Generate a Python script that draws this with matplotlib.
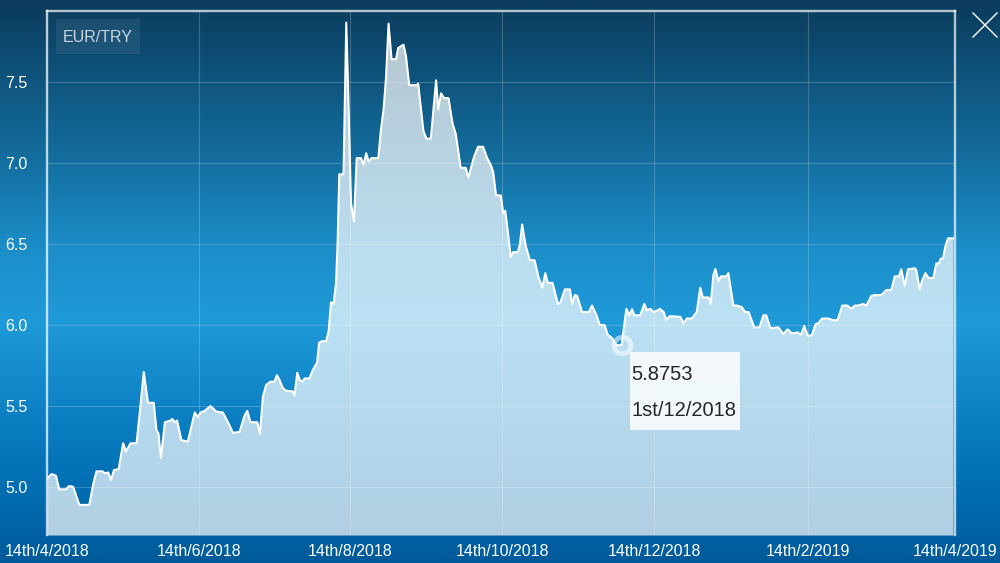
import numpy as np
import pandas as pd
import matplotlib
matplotlib.use("Agg")
import matplotlib.pyplot as plt
from matplotlib.colors import LinearSegmentedColormap
from matplotlib.patches import Rectangle
from matplotlib.transforms import IdentityTransform

plt.rcParams['font.family'] = ['Liberation Sans', 'DejaVu Sans']

start = pd.Timestamp("2018-04-14")
end = pd.Timestamp("2019-04-14")

# days after 14/4/2018
days = [0.1, 1.9, 3.6, 4.9, 7.6, 8.9, 10.5, 13.0, 17.0, 18.6, 19.9, 22.3, 23.3, 24.6,
        25.8, 26.9, 28.8, 30.6, 31.7, 33.6, 36.0, 37.3, 38.9, 40.6, 42.9, 44.0, 44.8,
        45.8, 47.4, 49.6, 50.4, 51.3, 52.3, 54.0, 56.6, 59.4, 60.7, 61.7, 63.4, 65.7,
        68.1, 70.7, 73.4, 74.7, 77.4, 79.4, 80.5, 81.8, 84.5, 85.6, 86.8, 88.1, 89.8,
        91.4, 92.4, 93.5, 94.8, 96.1, 98.8, 99.5, 100.6, 101.6, 102.7, 103.5, 105.5,
        106.8, 108.6, 109.4, 110.4, 112.2, 113.2, 114.2, 115.2, 116.2, 116.8, 117.5,
        119.2, 120.3, 121.1, 122.2, 123.4, 124.5, 126.2, 127.3, 128.3, 129.3, 130.5,
        133.2, 134.2, 135.3, 136.3, 137.3, 138.5, 140.3, 141.2, 143.3, 144.3, 145.6,
        148.7, 149.2, 151.3, 152.5, 154.3, 156.4, 157.3, 158.4, 159.6, 161.4, 163.0,
        164.3, 166.3, 168.3, 169.4, 171.7, 173.3, 175.3, 176.8, 178.6, 179.4, 180.5,
        182.4, 183.4, 184.2, 185.3, 186.4, 187.4, 189.3, 190.1, 191.0, 192.4, 194.1,
        196.0, 197.5, 199.1, 200.3, 201.3, 203.2, 205.4, 206.4, 208.2, 210.2, 211.1,
        212.2, 213.1, 215.1, 217.8, 219.1, 220.9, 222.2, 224.1, 225.4, 227.1, 228.9,
        231.0, 232.9, 234.0, 235.2, 236.1, 238.5, 240.1, 241.2, 242.5, 243.9, 245.5,
        246.3, 247.9, 249.0, 250.3, 254.6, 255.9, 257.2, 259.2, 261.2, 262.6, 263.6,
        265.9, 266.8, 267.9, 268.7, 269.9, 270.9, 273.0, 273.9, 275.9, 277.5, 279.3,
        280.6, 282.0, 284.3, 286.4, 288.0, 289.1, 290.8, 294.0, 296.0, 297.7, 299.3,
        300.7, 301.7, 303.1, 304.4, 305.8, 307.4, 309.0, 310.0, 311.6, 314.0, 316.0,
        317.8, 319.7, 321.8, 323.2, 324.8, 326.1, 328.1, 329.4, 331.4, 333.0, 335.4,
        337.4, 339.4, 340.8, 342.5, 343.4, 344.8, 346.1, 348.8, 349.4, 350.8, 351.7,
        353.1, 354.4, 356.3, 357.5, 358.5, 359.3, 360.2, 361.1, 362.2, 364.2]

rate = [5.054, 5.08, 5.07, 4.986, 4.986, 5.006, 5.002, 4.89, 4.89, 5.02, 5.097, 5.097, 5.085, 5.09,
        5.043, 5.105, 5.11, 5.27, 5.22, 5.27, 5.27, 5.46, 5.71, 5.52, 5.52, 5.35, 5.33,
        5.18, 5.40, 5.41, 5.42, 5.40, 5.41, 5.29, 5.28, 5.46, 5.43, 5.46, 5.47, 5.50,
        5.465, 5.46, 5.38, 5.335, 5.34, 5.44, 5.47, 5.40, 5.40, 5.33, 5.56, 5.63, 5.65,
        5.65, 5.69, 5.66, 5.61, 5.595, 5.59, 5.565, 5.705, 5.66, 5.65, 5.67, 5.67,
        5.72, 5.77, 5.89, 5.90, 5.90, 5.96, 6.14, 6.13, 6.26, 6.50, 6.93,
        6.93, 7.866, 7.43, 6.75, 6.64, 7.03, 7.03, 6.99, 7.06, 7.01, 7.03,
        7.03, 7.20, 7.33, 7.53, 7.86, 7.64, 7.64, 7.71, 7.73, 7.66, 7.48,
        7.48, 7.49, 7.20, 7.15, 7.15, 7.51, 7.33, 7.43, 7.40, 7.40, 7.245,
        7.18, 6.97, 6.97, 6.91, 7.04, 7.10, 7.10, 7.035, 6.98, 6.94, 6.80,
        6.80, 6.69, 6.705, 6.57, 6.42, 6.45, 6.45, 6.50, 6.62, 6.49, 6.40,
        6.40, 6.30, 6.23, 6.32, 6.26, 6.26, 6.13, 6.14, 6.22, 6.22, 6.13,
        6.185, 6.18, 6.08, 6.08, 6.12, 6.06, 6.00, 6.00, 5.94, 5.92, 5.8753,
        5.8753, 6.10, 6.06, 6.097, 6.06, 6.06, 6.13, 6.09, 6.10, 6.08, 6.09,
        6.10, 6.08, 6.03, 6.055, 6.05, 6.01, 6.04, 6.04, 6.08, 6.23, 6.17,
        6.17, 6.13, 6.31, 6.345, 6.27, 6.30, 6.30, 6.32, 6.12, 6.12, 6.11,
        6.08, 6.08, 5.985, 5.985, 6.06, 6.06, 5.98, 5.985, 5.944, 5.973, 5.95,
        5.95, 5.955, 5.94, 5.994, 5.935, 5.935, 6.006, 6.01, 6.04, 6.04, 6.03,
        6.03, 6.12, 6.12, 6.10, 6.12, 6.12, 6.13, 6.12, 6.18, 6.185, 6.185,
        6.216, 6.216, 6.30, 6.30, 6.344, 6.24, 6.344, 6.35, 6.34, 6.22, 6.27,
        6.32, 6.29, 6.29, 6.38, 6.38, 6.41, 6.41, 6.483, 6.535, 6.535]

yticks = [5.0, 5.5, 6.0, 6.5, 7.0, 7.5]
tick_dates = [start + pd.DateOffset(months=2 * i) for i in range(7)]
tick_labels = [f"14th/{d.month}/{d.year}" for d in tick_dates]

tip_day = 231
tip_value = 5.8753
tip_date_label = "1st/12/2018"
pair = "EUR/TRY"

dates = start + pd.to_timedelta(days, unit="D")
ylo, yhi = 4.704, 7.938

fig = plt.figure(figsize=(10, 5.63), dpi=100)

# background gradient
bg = fig.add_axes([0, 0, 1, 1], zorder=-1)
cmap = LinearSegmentedColormap.from_list("bg", [
    (0.0, "#0a3b5c"), (0.27, "#136c9c"), (0.45, "#1c8fcb"), (0.57, "#1f9ad8"),
    (0.75, "#0b7ec2"), (0.88, "#006cb0"), (1.0, "#005a9a")])
bg.imshow(np.linspace(0, 1, 256).reshape(-1, 1), aspect="auto", cmap=cmap,
          extent=[0, 1, 0, 1])
bg.axis("off")

ax = fig.add_axes([0.047, 0.0497, 0.908, 0.9308])
ax.patch.set_alpha(0)
ax.fill_between(dates, rate, ylo, color="white", alpha=0.7, lw=0, zorder=1)
ax.plot(dates, rate, color="white", lw=1.5, zorder=3)

ax.set_xlim(start, end)
ax.set_ylim(ylo, yhi)
ax.set_xticks(tick_dates)
ax.set_xticklabels(tick_labels)
ax.set_yticks(yticks)
ax.set_yticklabels([f"{v:.1f}" for v in yticks])
ax.grid(True, color="white", alpha=0.2, lw=0.8, zorder=2)
ax.set_axisbelow("line")
ax.tick_params(length=0, colors="white", labelsize=11.5)
ax.tick_params(axis="x", pad=6.5)
ax.tick_params(axis="y", pad=30.2)
for lab in ax.get_yticklabels():
    lab.set_horizontalalignment("left")

ax.spines["bottom"].set_visible(False)
for s in ["left", "top", "right"]:
    ax.spines[s].set_color((1, 1, 1, 0.7))
    ax.spines[s].set_linewidth(1.7)

# legend tag
fig.patches.append(Rectangle((56 / 1000, 1 - 54 / 563), 84 / 1000, 35 / 563,
                             transform=fig.transFigure, color="white", alpha=0.07, lw=0))
fig.text(98 / 1000, 1 - 37 / 563, pair, color="#c8d6e0", fontsize=11.5,
         ha="center", va="center")

# close cross
fig.add_artist(plt.Line2D([973 / 1000, 997 / 1000], [1 - 13 / 563, 1 - 37 / 563],
                          transform=fig.transFigure, color="white", lw=1))
fig.add_artist(plt.Line2D([973 / 1000, 997 / 1000], [1 - 37 / 563, 1 - 13 / 563],
                          transform=fig.transFigure, color="white", lw=1))

# tooltip
tip_date = start + pd.Timedelta(days=tip_day)
ax.plot([tip_date], [tip_value], "o", ms=12, mfc="none", mec=(1, 1, 1, 0.55),
        mew=3.4, zorder=4)
px, py = ax.transData.transform((matplotlib.dates.date2num(tip_date), tip_value))
ident = IdentityTransform()
fig.patches.append(Rectangle((px + 8, py - 7 - 78), 110, 78, transform=ident,
                             color="white", alpha=0.82, lw=0, zorder=5))
fig.text(px + 10, py - 29, f"{tip_value:.4f}", transform=ident, fontsize=14.5,
         color="#262626", ha="left", va="center", zorder=6)
fig.text(px + 10, py - 65, tip_date_label, transform=ident, fontsize=14.5,
         color="#262626", ha="left", va="center", zorder=6)

fig.savefig("out.png", dpi=100)
